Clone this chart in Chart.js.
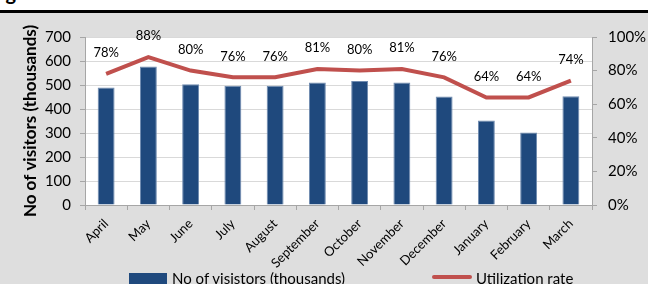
<!DOCTYPE html>
<html>
<head>
<meta charset="utf-8">
<script src="https://cdn.jsdelivr.net/npm/chart.js@4.4.1/dist/chart.umd.min.js"></script>
<style>
  html, body { margin: 0; padding: 0; width: 648px; height: 284px; overflow: hidden; background: #fff; }
  #title { position: absolute; left: -11px; top: -20px; font: bold 20px Lato, sans-serif; line-height: 24px; color: #000; }
  #rule { position: absolute; left: 0; top: 10px; width: 648px; height: 3px; background: #000; }
  #panel { position: absolute; left: 0; top: 13px; width: 648px; height: 271px; background: #dedede; }
  #panel canvas { position: absolute; left: 0; top: 0; }
  .lg { position: absolute; font: 15px Lato, sans-serif; color: #000; white-space: nowrap; }
  .box { position: absolute; }
</style>
</head>
<body>
<div id="title">Figure</div>
<div id="rule"></div>
<div id="panel">
  <canvas id="chart" width="648" height="271"></canvas>
  <div class="box" style="left:129px; top:260px; width:38px; height:11px; background:#1f497d;"></div>
  <div class="lg" style="left:172px; top:256px;">No of visistors (thousands)</div>
  <div class="box" style="left:432px; top:262px; width:40px; height:4px; border-radius:2px; background:#c0504d;"></div>
  <div class="lg" style="left:476px; top:256px;">Utilization rate</div>
</div>
<script>
const months = ["April", "May", "June", "July", "August", "September", "October",
  "November", "December", "January", "February", "March"];
const visitors = [490, 577, 503, 497, 497, 510, 517, 510, 452, 352, 302, 453];
const utilization = [78, 88, 80, 76, 76, 81, 80, 81, 76, 64, 64, 74];
const leftTicks = [0, 100, 200, 300, 400, 500, 600, 700];
const rightTicks = [0, 20, 40, 60, 80, 100];

const fontName = "Lato, sans-serif";

// white plot area + percentage labels over the line
const plotBg = {
  id: "plotBg",
  beforeDraw(chart) {
    const a = chart.chartArea;
    const ctx = chart.ctx;
    ctx.save();
    ctx.fillStyle = "#ffffff";
    ctx.fillRect(a.left, a.top, a.right - a.left, a.bottom - a.top);
    ctx.restore();
  },
  afterDatasetsDraw(chart) {
    const meta = chart.getDatasetMeta(1);
    const ctx = chart.ctx;
    ctx.save();
    ctx.font = "13px " + fontName;
    ctx.fillStyle = "#000";
    ctx.textAlign = "center";
    ctx.textBaseline = "middle";
    meta.data.forEach((p, i) => {
      ctx.fillText(utilization[i] + "%", p.x, p.y - 21);
    });
    ctx.restore();
  }
};

const ctx = document.getElementById("chart").getContext("2d");
new Chart(ctx, {
  type: "bar",
  data: {
    labels: months,
    datasets: [
      {
        label: "No of visistors (thousands)",
        data: visitors,
        backgroundColor: "#1f497d",
        borderColor: "#6f8bb0",
        borderWidth: 1,
        barPercentage: 0.4,
        categoryPercentage: 1.0,
        yAxisID: "y",
        order: 2
      },
      {
        type: "line",
        label: "Utilization rate",
        data: utilization.map(v => v / 100),
        borderColor: "#c0504d",
        borderWidth: 4,
        pointRadius: 0,
        tension: 0,
        yAxisID: "y1",
        order: 1
      }
    ]
  },
  options: {
    responsive: false,
    animation: false,
    layout: { padding: { top: 24, left: 0, right: 0, bottom: 0 } },
    plugins: {
      legend: { display: false },
      tooltip: { enabled: false }
    },
    scales: {
      x: {
        offset: true,
        grid: { display: true, offset: true, drawOnChartArea: false, drawTicks: true, tickLength: 5, tickColor: "#a6a6a6" },
        border: { color: "#a6a6a6" },
        ticks: {
          font: { family: fontName, size: 13 },
          color: "#000",
          maxRotation: 45,
          minRotation: 45,
          autoSkip: false,
          padding: 6
        },
        afterFit(scale) { scale.height = 79; }
      },
      y: {
        position: "left",
        min: 0,
        max: 700,
        afterBuildTicks(scale) { scale.ticks = leftTicks.map(v => ({ value: v })); },
        grid: { color: "#d9d9d9", tickColor: "#a6a6a6", tickLength: 5 },
        border: { color: "#a6a6a6" },
        ticks: {
          font: { family: fontName, size: 15 },
          color: "#000",
          padding: 9
        },
        title: {
          display: true,
          text: "No of visitors (thousands)",
          font: { family: fontName, size: 17, weight: "bold" },
          color: "#000",
          padding: { top: 20, bottom: 0 }
        },
        afterFit(scale) { scale.width = 85; }
      },
      y1: {
        position: "right",
        min: 0,
        max: 1,
        afterBuildTicks(scale) { scale.ticks = rightTicks.map(v => ({ value: v / 100 })); },
        grid: { drawOnChartArea: false, tickColor: "#a6a6a6", tickLength: 5 },
        border: { color: "#a6a6a6" },
        ticks: {
          font: { family: fontName, size: 15 },
          color: "#000",
          padding: 11,
          callback: v => Math.round(v * 100) + "%"
        },
        afterFit(scale) { scale.width = 56; }
      }
    }
  },
  plugins: [plotBg]
});
</script>
</body>
</html>
